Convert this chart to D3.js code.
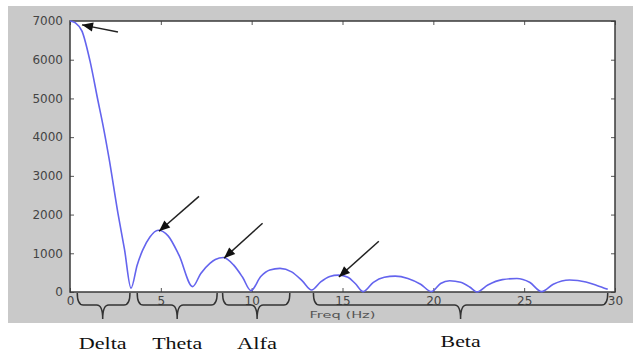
<!DOCTYPE html>
<html>
<head>
<meta charset="utf-8">
<script src="https://cdn.jsdelivr.net/npm/d3@7"></script>
<style>
  body { margin: 0; background: #fff; }
  svg { display: block; }
</style>
</head>
<body>
<div id="chart"></div>
<script>
(function () {

  // Spectrum (Hz, amplitude)
  const freq = [0, 0.3, 0.66, 1.1, 1.54, 1.82, 2.15, 2.64, 3.0, 3.36,
    3.7, 4.0, 4.4, 4.85, 5.4, 6.0, 6.75,
    7.2, 7.7, 8.0, 8.44, 9.0, 9.5, 9.96,
    10.5, 11.0, 11.56, 12.2, 12.8, 13.3,
    13.8, 14.3, 14.77, 15.3, 15.7, 16.14,
    16.7, 17.3, 17.9, 18.6, 19.3, 19.9,
    20.4, 20.9, 21.5, 22.0, 22.4,
    23.0, 23.8, 24.6, 25.3, 25.96,
    26.6, 27.5, 28.4, 29.0, 29.6]
  const amplitude = [7000, 6950, 6740, 5970, 4940, 4300, 3450, 2030, 1100, 100,
    700, 1080, 1420, 1595, 1450, 950, 140,
    480, 740, 840, 890, 700, 380, 35,
    400, 570, 610, 520, 280, 50,
    260, 400, 437, 380, 220, 10,
    250, 380, 410, 350, 200, 10,
    220, 290, 250, 130, 0,
    180, 320, 350, 250, 10,
    200, 310, 260, 170, 70]

  const xTicks = [0, 5, 10, 15, 20, 25, 30]
  const yTicks = [0, 1000, 2000, 3000, 4000, 5000, 6000, 7000]

  // Arrows: head and tail, in data units
  const arrowHeads = [[0.66, 6900], [4.9, 1570], [8.48, 875], [14.8, 386]]
  const arrowTails = [[2.64, 6715], [7.1, 2470], [10.6, 1775], [17.0, 1312]]

  // EEG bands shown with braces under the axis
  const bandNames = ["Delta", "Theta", "Alfa", "Beta"]
  const bandStart = [0.4, 3.7, 8.4, 13.4]
  const bandEnd = [3.3, 8.1, 12.1, 29.6]
  const bandTip = [1.8, 5.9, 10.3, 21.5]
  const bandLabelWidth = [48, 50, 40, 40]

  const W = 642, H = 354
  const plot = { left: 70, right: 615, top: 21, bottom: 292 }

  const svg = d3.select("#chart").append("svg")
      .attr("width", W)
      .attr("height", H)

  // grey figure background
  svg.append("rect")
    .attr("x", 8).attr("y", 6)
    .attr("width", 625).attr("height", 317)
    .attr("fill", "#c9c9c9")

  const x = d3.scaleLinear().domain([0, 30]).range([plot.left, plot.right])
  const y = d3.scaleLinear().domain([0, 7000]).range([plot.bottom, plot.top])

  svg.append("rect")
    .attr("x", plot.left).attr("y", plot.top)
    .attr("width", plot.right - plot.left).attr("height", plot.bottom - plot.top)
    .attr("fill", "#fff")

  // axes, matlab style ticks pointing inward
  const tickStyle = g => {
    g.select(".domain").remove()
    g.selectAll(".tick line").attr("stroke", "#555")
    g.selectAll(".tick text")
      .attr("fill", "#444")
      .attr("font-family", "DejaVu Sans, sans-serif")
      .attr("font-size", 12)
  }

  svg.append("g")
    .attr("transform", "translate(" + plot.left + ",0)")
    .call(d3.axisLeft(y).tickValues(yTicks).tickSize(-4).tickPadding(7).tickFormat(d3.format("d")))
    .call(tickStyle)

  svg.append("g")
    .attr("transform", "translate(" + plot.right + ",0)")
    .call(d3.axisRight(y).tickValues(yTicks).tickSize(-4).tickFormat(""))
    .call(tickStyle)

  svg.append("g")
    .attr("transform", "translate(0," + plot.top + ")")
    .call(d3.axisTop(x).tickValues(xTicks).tickSize(-4).tickFormat(""))
    .call(tickStyle)

  svg.append("g")
    .attr("transform", "translate(0," + plot.bottom + ")")
    .call(d3.axisBottom(x).tickValues(xTicks).tickSize(-4).tickPadding(4))
    .call(tickStyle)

  // frame
  svg.append("rect")
    .attr("x", plot.left).attr("y", plot.top)
    .attr("width", plot.right - plot.left).attr("height", plot.bottom - plot.top)
    .attr("fill", "none")
    .attr("stroke", "#3a3a3a")
    .attr("stroke-width", 1.5)

  svg.append("text")
    .attr("x", (plot.left + plot.right) / 2)
    .attr("y", 318)
    .attr("text-anchor", "middle")
    .attr("font-family", "DejaVu Sans, sans-serif")
    .attr("font-size", 9)
    .attr("fill", "#555")
    .attr("textLength", 66)
    .attr("lengthAdjust", "spacingAndGlyphs")
    .text("Freq (Hz)")

  // spectrum line
  const points = freq.map((f, i) => [f, amplitude[i]])
  const line = d3.line()
    .x(d => x(d[0]))
    .y(d => y(d[1]))
    .curve(d3.curveMonotoneX)

  svg.append("path")
    .datum(points)
    .attr("d", line)
    .attr("fill", "none")
    .attr("stroke", "#6464ee")
    .attr("stroke-width", 1.6)

  // arrows
  svg.selectAll(".arrow")
    .data(arrowHeads)
    .join("line")
    .attr("class", "arrow")
    .attr("x1", (d, i) => x(arrowTails[i][0]))
    .attr("y1", (d, i) => y(arrowTails[i][1]))
    .attr("x2", d => x(d[0]))
    .attr("y2", d => y(d[1]))
    .attr("stroke", "#222")
    .attr("stroke-width", 1.5)

  svg.selectAll(".arrow-head")
    .data(arrowHeads)
    .join("path")
    .attr("class", "arrow-head")
    .attr("d", (d, i) => {
      const hx = x(d[0]), hy = y(d[1])
      const tx = x(arrowTails[i][0]), ty = y(arrowTails[i][1])
      const a = Math.atan2(ty - hy, tx - hx)
      const len = 11, wid = 4.5
      const bx = hx + len * Math.cos(a), by = hy + len * Math.sin(a)
      const px = -Math.sin(a) * wid, py = Math.cos(a) * wid
      return "M" + hx + "," + hy + "L" + (bx + px) + "," + (by + py) + "L" + (bx - px) + "," + (by - py) + "Z"
    })
    .attr("fill", "#111")

  // braces
  const braceTop = 293, braceMid = 305, braceLow = 319, r = 6
  svg.selectAll(".brace")
    .data(bandNames)
    .join("path")
    .attr("class", "brace")
    .attr("d", (d, i) => {
      const x1 = x(bandStart[i]), x2 = x(bandEnd[i]), xm = x(bandTip[i])
      return "M" + x1 + "," + braceTop +
        "Q" + x1 + "," + braceMid + " " + (x1 + r) + "," + braceMid +
        "L" + (xm - r) + "," + braceMid +
        "Q" + xm + "," + braceMid + " " + xm + "," + braceLow +
        "Q" + xm + "," + braceMid + " " + (xm + r) + "," + braceMid +
        "L" + (x2 - r) + "," + braceMid +
        "Q" + x2 + "," + braceMid + " " + x2 + "," + braceTop
    })
    .attr("fill", "none")
    .attr("stroke", "#333")
    .attr("stroke-width", 1.5)

  svg.selectAll(".band-label")
    .data(bandNames)
    .join("text")
    .attr("class", "band-label")
    .attr("x", (d, i) => x(bandTip[i]))
    .attr("y", (d, i) => i === 3 ? 347 : 349)
    .attr("text-anchor", "middle")
    .attr("font-family", "Liberation Serif, serif")
    .attr("font-size", 16)
    .attr("fill", "#111")
    .attr("textLength", (d, i) => bandLabelWidth[i])
    .attr("lengthAdjust", "spacingAndGlyphs")
    .text(d => d)

})();
</script>
</body>
</html>
